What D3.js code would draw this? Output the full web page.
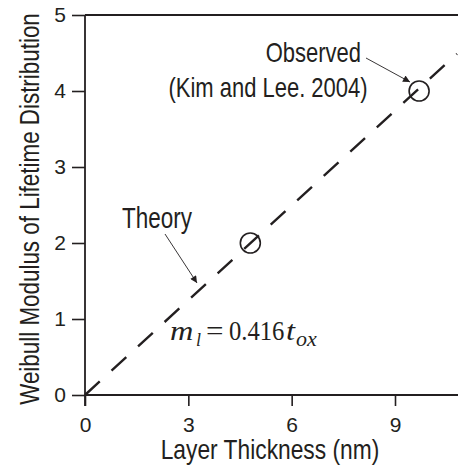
<!DOCTYPE html>
<html>
<head>
<meta charset="utf-8">
<script src="https://cdnjs.cloudflare.com/ajax/libs/d3/7.8.5/d3.min.js"></script>
<style>
  body { margin: 0; background: #fff; }
  text { font-family: "Liberation Sans", Arial, sans-serif; fill: #231f20; }
</style>
</head>
<body>
<script>
// observed points (Kim and Lee, 2004)
var obsThickness = [4.8, 9.7];
var obsModulus = [2, 4];
// theory line m_l = 0.416 t_ox, drawn between two end points
var theoryThickness = [0, 10.8];
var theoryModulus = [0, 4.49];
var xTicks = [0, 3, 6, 9];
var yTicks = [0, 1, 2, 3, 4, 5];

var width = 458, height = 466;
var margin = {top: 15, right: 0, bottom: 71, left: 85};

var svg = d3.select("body").append("svg")
    .attr("width", width)
    .attr("height", height);

var x = d3.scaleLinear().domain([0, 10.8]).range([margin.left, 457]);
var y = d3.scaleLinear().domain([0, 5]).range([height - margin.bottom, margin.top]);

var ink = "#231f20";

// text in the original is a bit taller than wide
function label(px, py, size, anchor, str, sy, sx) {
  return svg.append("text")
    .attr("transform", "translate(" + px + "," + py + ") scale(" + (sx || 1) + "," + (sy || 1.22) + ")")
    .attr("text-anchor", anchor)
    .style("font-size", size + "px")
    .text(str);
}

// arrow head
svg.append("defs").append("marker")
    .attr("id", "arr")
    .attr("viewBox", "0 0 10 10")
    .attr("refX", 10).attr("refY", 5)
    .attr("markerWidth", 9).attr("markerHeight", 7)
    .attr("markerUnits", "userSpaceOnUse")
    .attr("orient", "auto")
  .append("path")
    .attr("d", "M0,0 L10,5 L0,10 z")
    .attr("fill", ink);

// axes
var xAxis = svg.append("g")
    .attr("transform", "translate(0," + y(0) + ")")
    .call(d3.axisBottom(x).tickValues(xTicks).tickSize(11).tickPadding(11).tickFormat(d3.format("d")));
var yAxis = svg.append("g")
    .attr("transform", "translate(" + x(0) + ",0)")
    .call(d3.axisLeft(y).tickValues(yTicks).tickSize(13).tickPadding(6).tickFormat(d3.format("d")));

[xAxis, yAxis].forEach(function(g) {
  g.attr("font-size", null).attr("font-family", null);
  g.select(".domain").remove();
  g.selectAll(".tick line").attr("stroke", ink).attr("stroke-width", 1.6);
  g.selectAll(".tick text").style("font-size", "21px").attr("fill", ink);
});

// frame: left, bottom, top
svg.append("line").attr("x1", x(0)).attr("y1", y(0) + 11).attr("x2", x(0)).attr("y2", y(5))
    .attr("stroke", ink).attr("stroke-width", 1.8);
svg.append("line").attr("x1", x(0)).attr("y1", y(0)).attr("x2", width).attr("y2", y(0))
    .attr("stroke", ink).attr("stroke-width", 1.8);
svg.append("line").attr("x1", x(0)).attr("y1", y(5)).attr("x2", width).attr("y2", y(5))
    .attr("stroke", ink).attr("stroke-width", 1.8);

// theory line
var line = d3.line().x(function(d) { return x(d[0]); }).y(function(d) { return y(d[1]); });
svg.append("path")
    .datum(d3.zip(theoryThickness, theoryModulus))
    .attr("d", line)
    .attr("fill", "none")
    .attr("stroke", ink)
    .attr("stroke-width", 2.4)
    .attr("stroke-dasharray", "20,16");

// observed
svg.selectAll("circle.obs")
    .data(d3.zip(obsThickness, obsModulus))
  .enter().append("circle")
    .attr("class", "obs")
    .attr("cx", function(d) { return x(d[0]); })
    .attr("cy", function(d) { return y(d[1]); })
    .attr("r", 10)
    .attr("fill", "none")
    .attr("stroke", ink)
    .attr("stroke-width", 1.6);

// annotations
label(361, 62, 22, "end", "Observed");
label(268, 97, 22, "middle", "(Kim and Lee. 2004)");
svg.append("line").attr("x1", 366).attr("y1", 58).attr("x2", 410).attr("y2", 82)
    .attr("stroke", ink).attr("stroke-width", 0.9).attr("marker-end", "url(#arr)");

label(122, 228, 22.5, "start", "Theory", 1.3);
svg.append("line").attr("x1", 165).attr("y1", 234).attr("x2", 197).attr("y2", 283)
    .attr("stroke", ink).attr("stroke-width", 0.9).attr("marker-end", "url(#arr)");

// equation m_l = 0.416 t_ox, set piece by piece
function eqPart(px, py, size, str, italic, sx) {
  label(px, py, size, "start", str, 1, sx)
    .style("font-family", "Liberation Serif, Times New Roman, serif")
    .style("font-style", italic ? "italic" : "normal");
}
eqPart(170, 340, 27, "m", true, 1.2);
eqPart(196, 346, 18, "l", true);
eqPart(206, 340, 27, "=", false, 1.15);
eqPart(229, 340, 26.5, "0.416", false, 0.93);
eqPart(286, 340, 27, "t", true, 1.2);
eqPart(296, 346, 20, "ox", true, 1.1);

// axis titles
label(270, 459, 22.8, "middle", "Layer Thickness (nm)", 1.18);
svg.append("text")
    .attr("transform", "translate(39,209) rotate(-90) scale(1,1.2)")
    .attr("text-anchor", "middle")
    .style("font-size", "22.4px")
    .text("Weibull Modulus of Lifetime Distribution");
</script>
</body>
</html>
